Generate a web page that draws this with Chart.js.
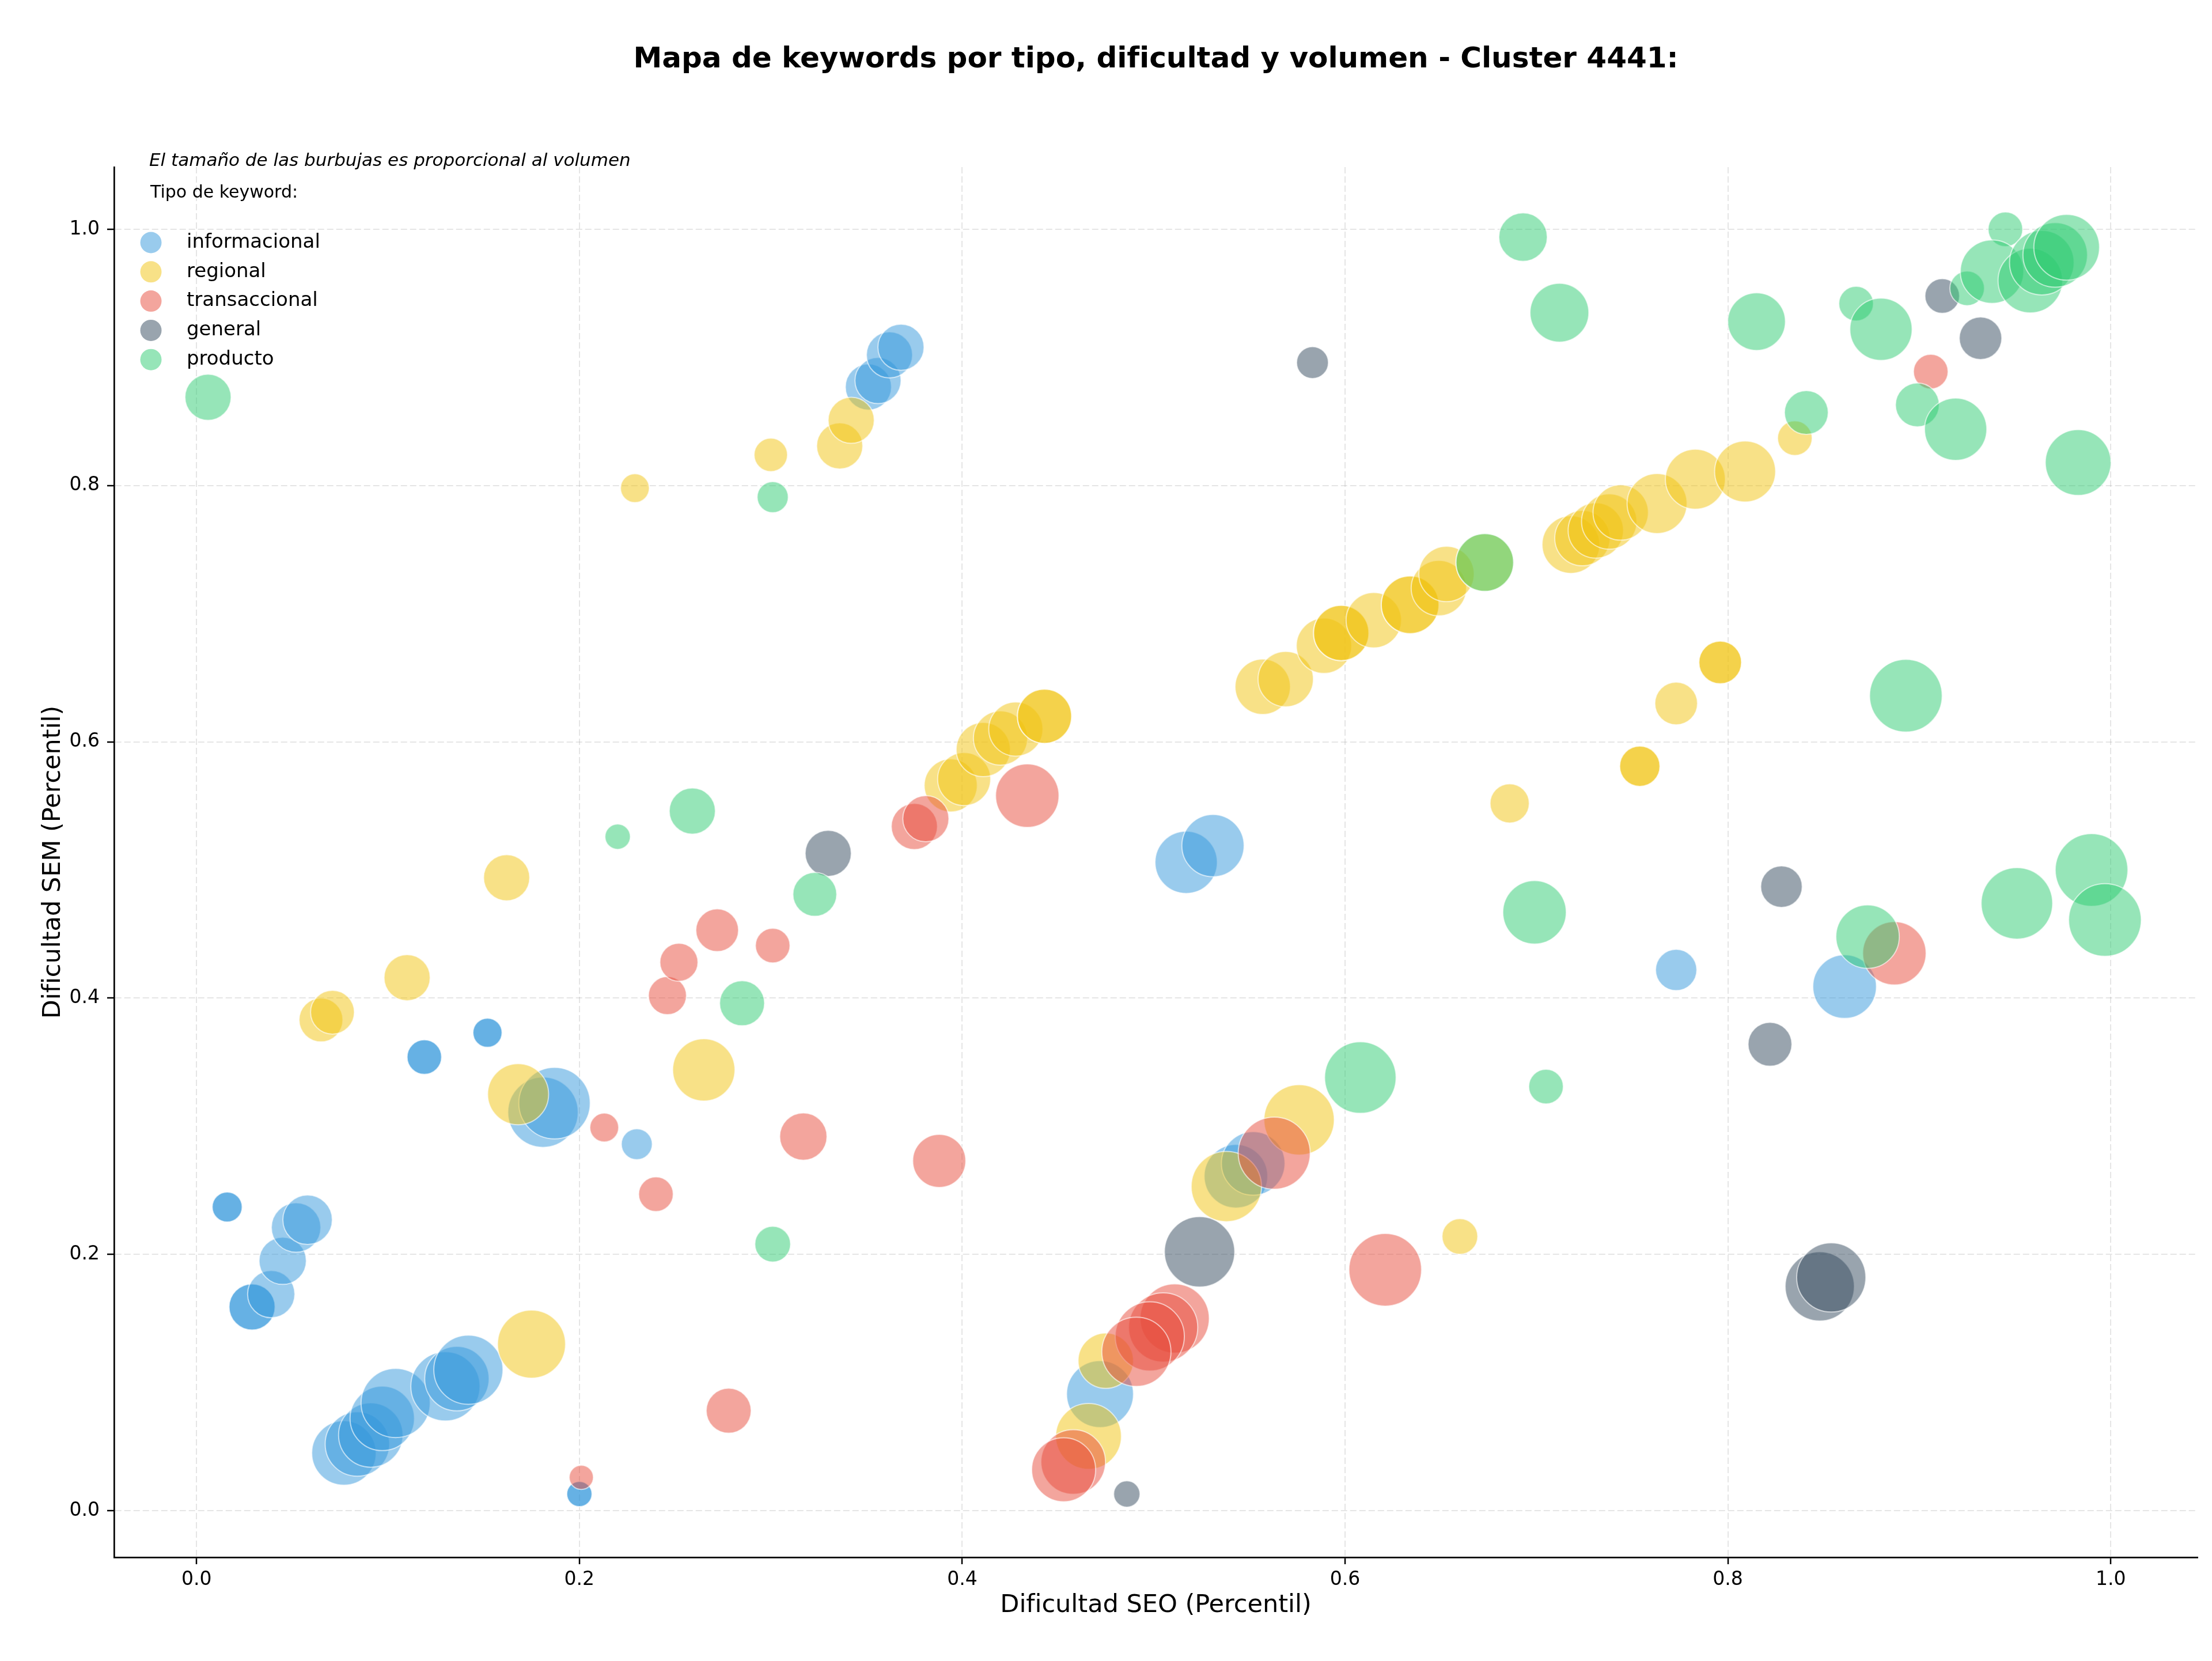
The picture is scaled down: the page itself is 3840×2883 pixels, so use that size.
<!DOCTYPE html>
<html lang="es">
<head>
  <meta charset="UTF-8">
  <title>Mapa de keywords - Cluster 4441</title>
  <script src="https://cdn.jsdelivr.net/npm/chart.js"></script>
  <style>
    body { margin: 0; background: #ffffff; }
    #mapa { display: block; }
  </style>
</head>
<body>
<canvas id="mapa" width="3840" height="2883"></canvas>
<script>
  // [dificultad SEO, dificultad SEM, volumen]
  const informacional = [
    [0.016, 0.237, 170], [0.016, 0.237, 170],
    [0.029, 0.159, 400], [0.029, 0.159, 400],
    [0.039, 0.169, 420], [0.045, 0.195, 420], [0.052, 0.221, 460], [0.058, 0.227, 460],
    [0.077, 0.045, 780], [0.084, 0.052, 780], [0.091, 0.059, 780], [0.097, 0.072, 780],
    [0.104, 0.084, 900], [0.130, 0.097, 900], [0.136, 0.103, 780], [0.142, 0.110, 900],
    [0.119, 0.354, 225], [0.119, 0.354, 225],
    [0.152, 0.373, 160], [0.152, 0.373, 160],
    [0.181, 0.311, 930], [0.187, 0.318, 960],
    [0.200, 0.013, 120], [0.200, 0.013, 120],
    [0.230, 0.286, 180],
    [0.351, 0.877, 400], [0.356, 0.882, 400], [0.362, 0.902, 400], [0.368, 0.908, 400],
    [0.517, 0.506, 729], [0.531, 0.519, 729],
    [0.472, 0.091, 841], [0.543, 0.261, 760], [0.552, 0.271, 760],
    [0.773, 0.422, 320], [0.861, 0.409, 760]
  ];

  const regional = [
    [0.065, 0.383, 361], [0.071, 0.389, 361], [0.110, 0.416, 400], [0.162, 0.494, 400],
    [0.168, 0.325, 700], [0.175, 0.130, 870], [0.229, 0.798, 156], [0.300, 0.824, 210],
    [0.336, 0.831, 400], [0.342, 0.851, 400], [0.265, 0.344, 729],
    [0.394, 0.566, 529], [0.401, 0.571, 529], [0.411, 0.594, 552], [0.420, 0.603, 552],
    [0.428, 0.610, 552], [0.443, 0.620, 552], [0.443, 0.620, 552],
    [0.557, 0.643, 576], [0.569, 0.649, 576], [0.589, 0.675, 576],
    [0.598, 0.685, 576], [0.598, 0.685, 576], [0.615, 0.695, 576],
    [0.634, 0.707, 625], [0.634, 0.707, 625], [0.649, 0.720, 576], [0.653, 0.731, 576],
    [0.673, 0.740, 625], [0.718, 0.754, 625], [0.724, 0.759, 576], [0.731, 0.765, 576],
    [0.738, 0.772, 576], [0.744, 0.779, 576], [0.763, 0.786, 676], [0.783, 0.805, 676],
    [0.809, 0.811, 700], [0.835, 0.837, 225],
    [0.686, 0.552, 289], [0.754, 0.581, 306], [0.754, 0.581, 306],
    [0.773, 0.630, 342], [0.796, 0.662, 342], [0.796, 0.662, 342],
    [0.660, 0.214, 240], [0.538, 0.253, 930], [0.576, 0.305, 930],
    [0.475, 0.117, 576], [0.466, 0.058, 812]
  ];

  const transaccional = [
    [0.246, 0.402, 272], [0.252, 0.428, 272], [0.272, 0.453, 342], [0.301, 0.441, 225],
    [0.240, 0.247, 225], [0.213, 0.299, 156], [0.317, 0.292, 420], [0.388, 0.273, 529],
    [0.278, 0.078, 380], [0.201, 0.026, 110],
    [0.375, 0.534, 400], [0.381, 0.540, 400], [0.434, 0.558, 756],
    [0.563, 0.279, 976], [0.621, 0.188, 992], [0.906, 0.889, 225], [0.887, 0.435, 756],
    [0.511, 0.150, 900], [0.505, 0.143, 900], [0.498, 0.136, 900], [0.491, 0.124, 900],
    [0.458, 0.038, 784], [0.453, 0.032, 770]
  ];

  const general = [
    [0.330, 0.513, 400], [0.583, 0.896, 190], [0.524, 0.202, 930], [0.486, 0.013, 130],
    [0.828, 0.487, 324], [0.822, 0.364, 361], [0.848, 0.175, 900], [0.854, 0.182, 900],
    [0.912, 0.948, 225], [0.932, 0.915, 340]
  ];

  const producto = [
    [0.006, 0.869, 400], [0.301, 0.791, 182], [0.220, 0.526, 121], [0.259, 0.546, 400],
    [0.323, 0.481, 361], [0.285, 0.396, 380], [0.301, 0.208, 240],
    [0.693, 0.994, 441], [0.712, 0.935, 650], [0.815, 0.928, 625],
    [0.705, 0.331, 225], [0.699, 0.467, 756], [0.608, 0.338, 961], [0.893, 0.636, 992],
    [0.983, 0.818, 812], [0.841, 0.857, 361], [0.867, 0.942, 225], [0.880, 0.922, 729],
    [0.925, 0.954, 225], [0.945, 1.000, 225], [0.938, 0.967, 756], [0.958, 0.960, 784],
    [0.964, 0.974, 784], [0.971, 0.980, 784], [0.977, 0.986, 812],
    [0.899, 0.863, 361], [0.919, 0.844, 729],
    [0.951, 0.474, 961], [0.990, 0.500, 992], [0.997, 0.461, 992], [0.873, 0.448, 756],
    [0.673, 0.740, 625]
  ];

  const tipos = ['informacional', 'regional', 'transaccional', 'general', 'producto'];
  const series = [informacional, regional, transaccional, general, producto];
  const colores = ['52, 152, 219', '241, 196, 15', '231, 76, 60', '52, 73, 94', '46, 204, 113'];
  const ticksX = [0, 0.2, 0.4, 0.6, 0.8, 1.0];
  const ticksY = [0, 0.2, 0.4, 0.6, 0.8, 1.0];

  const radio = v => Math.sqrt(v) * 2;
  const fuente = '"DejaVu Sans", sans-serif';

  // leyenda dibujada a mano (como la de matplotlib, dentro del area)
  const leyenda = {
    id: 'leyenda',
    afterDatasetsDraw(chart) {
      const { ctx, chartArea } = chart;
      const x0 = chartArea.left;
      const y0 = chartArea.top;
      ctx.save();
      ctx.textBaseline = 'middle';
      ctx.fillStyle = '#000';
      ctx.font = 'italic 31px ' + fuente;
      ctx.fillText('El tamaño de las burbujas es proporcional al volumen', x0 + 61, y0 - 10);
      ctx.font = '30px ' + fuente;
      ctx.fillText('Tipo de keyword:', x0 + 63, y0 + 45);
      tipos.forEach((t, i) => {
        const y = y0 + 131 + i * 50.8;
        ctx.beginPath();
        ctx.arc(x0 + 64, y, 18.5, 0, Math.PI * 2);
        ctx.fillStyle = 'rgba(' + colores[i] + ', 0.5)';
        ctx.fill();
        ctx.fillStyle = '#000';
        ctx.font = '34px ' + fuente;
        ctx.fillText(t, x0 + 126, y);
      });
      ctx.restore();
    }
  };

  const ejeComun = {
    type: 'linear',
    grid: {
      color: 'rgba(170, 170, 170, 0.3)',
      lineWidth: 2,
      tickColor: '#000',
      tickWidth: 2.5,
      tickLength: 12
    },
    border: { display: true, color: '#000', width: 2.7, dash: [11, 5] },
    ticks: {
      color: '#000',
      font: { family: fuente, size: 33 },
      callback: v => v.toFixed(1)
    }
  };

  new Chart(document.getElementById('mapa'), {
    type: 'bubble',
    data: {
      datasets: series.map((s, i) => ({
        label: tipos[i],
        data: s.map(p => ({ x: p[0], y: p[1], r: radio(p[2]) })),
        backgroundColor: 'rgba(' + colores[i] + ', 0.5)',
        borderColor: 'rgba(255, 255, 255, 0.6)',
        borderWidth: 2,
        order: tipos.length - i
      }))
    },
    options: {
      responsive: false,
      animation: false,
      events: [],
      layout: { autoPadding: false, padding: { left: 0, right: 25, top: 0, bottom: 0 } },
      plugins: {
        legend: { display: false },
        tooltip: { enabled: false },
        title: {
          display: true,
          fullSize: false,
          text: 'Mapa de keywords por tipo, dificultad y volumen - Cluster 4441:',
          color: '#000',
          font: { family: fuente, size: 50, weight: 'bold' },
          padding: { top: 74, bottom: 156 }
        }
      },
      scales: {
        x: {
          ...ejeComun,
          min: -0.0431,
          max: 1.0454,
          afterBuildTicks: s => { s.ticks = ticksX.map(v => ({ value: v })); },
          afterFit: s => { s.height = 180; s.paddingLeft = 0; s.paddingRight = 0; },
          ticks: { ...ejeComun.ticks, padding: 8, maxRotation: 0 },
          title: {
            display: true,
            text: 'Dificultad SEO (Percentil)',
            color: '#000',
            font: { family: fuente, size: 43 },
            padding: { top: 0, bottom: 70 }
          }
        },
        y: {
          ...ejeComun,
          min: -0.0364,
          max: 1.0486,
          afterBuildTicks: s => { s.ticks = ticksY.map(v => ({ value: v })); },
          afterFit: s => { s.width = 198; s.paddingTop = 0; s.paddingBottom = 0; },
          ticks: { ...ejeComun.ticks, padding: 13 },
          title: {
            display: true,
            text: 'Dificultad SEM (Percentil)',
            color: '#000',
            font: { family: fuente, size: 43 },
            padding: { top: 67, bottom: 0 }
          }
        }
      }
    },
    plugins: [leyenda]
  });
</script>
</body>
</html>
